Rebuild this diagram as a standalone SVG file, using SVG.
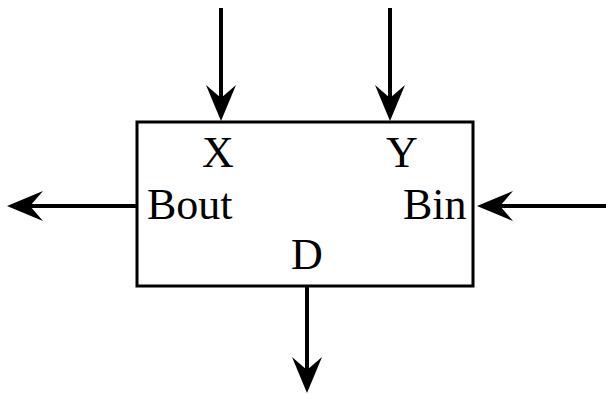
<svg xmlns="http://www.w3.org/2000/svg" width="606" height="395" viewBox="0 0 606 395">
  <style>
    .box { fill: #ffffff; stroke: #000000; stroke-width: 3; }
    .wire { fill: none; stroke: #000000; stroke-width: 4; }
    .lbl { font-family: "Liberation Serif", "Times New Roman", serif; font-size: 44px; fill: #000000; }
  </style>
  <defs>
    <!-- arrowhead: the wire ends at the notch, the tip sits 23px further on -->
    <marker id="head" markerUnits="userSpaceOnUse" markerWidth="40" markerHeight="34" viewBox="-38 -17 40 34" refX="-22" refY="0" orient="auto">
      <path d="M0,0 L-36,-15 L-23,0 L-36,15 Z" fill="#000000"/>
    </marker>
  </defs>
  <rect width="606" height="395" fill="#ffffff"/>
  <g id="block">
    <rect class="box" x="137" y="122" width="336" height="164"/>
    <text class="lbl" x="202" y="167">X</text>
    <text class="lbl" x="386" y="167">Y</text>
    <text class="lbl" x="147" y="219">Bout</text>
    <text class="lbl" x="403" y="219">Bin</text>
    <text class="lbl" x="291" y="269">D</text>
  </g>
  <g id="connectors">
    <path class="wire" d="M221,8 L221,99" marker-end="url(#head)"/>
    <path class="wire" d="M390,8 L390,99" marker-end="url(#head)"/>
    <path class="wire" d="M137,206 L29,206" marker-end="url(#head)"/>
    <path class="wire" d="M606,206 L499,206" marker-end="url(#head)"/>
    <path class="wire" d="M307,287 L307,371" marker-end="url(#head)"/>
  </g>
</svg>
